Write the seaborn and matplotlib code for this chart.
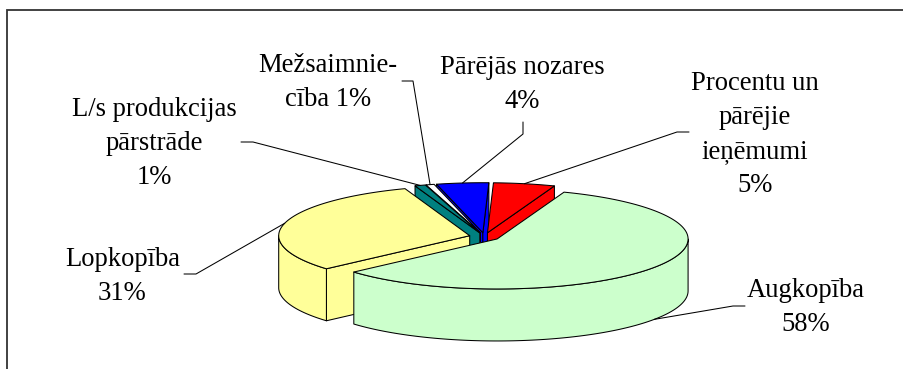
import numpy as np
import seaborn as sns
import matplotlib
matplotlib.use("Agg")
import matplotlib.pyplot as plt

# shares, clockwise from the top
names = ["Procentu un\npārējie\nieņēmumi", "Augkopība", "Lopkopība",
         "L/s produkcijas\npārstrāde", "Mežsaimnie-\ncība", "Pārējās nozares"]
shares = [5.2, 57.8, 31.0, 0.9, 0.7, 4.4]
colors = ["#FF0000", "#CCFFCC", "#FFFF99", "#008080", "#FFFFFF", "#0000FF"]
label_sep = ["\n", "\n", "\n", "\n", " ", "\n"]

# label centre and the elbow of the leader line
label_xy = [(755, 134.5), (806, 307.5), (122.5, 276.5), (154, 143.5), (328, 82.5), (522, 84.5)]
leader_pts = [[(689, 132), (677, 132)], [(745, 306), (733, 306)],
              [(184, 274), (196, 274)], [(241, 142), (253, 142)],
              [(402, 81), (413, 81)], [(523, 122), (523, 134)]]

# pie geometry, in pixels
start = 1.8
center = (484.5, 236.7)
rx, ry, depth = 191, 50, 52
explode = 0.08
edge = 0.75

sns.set_style("white")
plt.rcParams["font.family"] = ["Liberation Serif", "DejaVu Serif"]
palette = sns.color_palette(colors)

fig = plt.figure(figsize=(9.04, 3.69), dpi=100)
ax = fig.add_axes([0, 0, 1, 1])
ax.set_xlim(0, 904)
ax.set_ylim(369, 0)
ax.axis("off")

ends = start + np.cumsum(shares) * 3.6
begins = np.r_[start, ends[:-1]]


def rim(cx, cy, t):
    r = np.radians(t)
    return cx + rx * np.sin(r), cy - ry * np.cos(r)


def wedge_center(a, b):
    m = np.radians((a + b) / 2)
    return center[0] + explode * rx * np.sin(m), center[1] - explode * ry * np.cos(m)


def draw_wedge(i):
    a, b = begins[i], ends[i]
    c = palette[i]
    cx, cy = wedge_center(a, b)
    kw = dict(facecolor=c, edgecolor="black", linewidth=edge, joinstyle="round")
    # cut faces that look to the viewer
    for t, show in ((a, np.sin(np.radians(a)) < 0), (b, np.sin(np.radians(b)) > 0)):
        if show:
            x, y = rim(cx, cy, t)
            ax.fill([cx, x, x, cx], [cy, y, y + depth, cy + depth], **kw)
    # outer wall, front half only
    lo, hi = max(a, 90), min(b, 270)
    if lo < hi:
        t = np.linspace(lo, hi, 120)
        x, y = rim(cx, cy, t)
        ax.fill(np.r_[x, x[::-1]], np.r_[y, y[::-1] + depth], **kw)
    # top
    t = np.linspace(a, b, 160)
    x, y = rim(cx, cy, t)
    ax.fill(np.r_[cx, x], np.r_[cy, y], **kw)


# chart frame, only top and left show up
ax.plot([7, 7, 904], [369, 10, 10], color="#333333", linewidth=1.3, solid_joinstyle="miter")

# leaders first, pie goes on top of their ends
for i in range(len(shares)):
    a, b = begins[i], ends[i]
    cx, cy = wedge_center(a, b)
    m = (a + b) / 2
    x, y = rim(cx, cy, m)
    if 90 < m % 360 < 270:
        y += depth
    pts = leader_pts[i] + [(x, y)]
    ax.plot(*zip(*pts), color="black", linewidth=0.75)

# back to front
for i in [5, 0, 4, 3, 2, 1]:
    draw_wedge(i)

for name, sep, share, xy in zip(names, label_sep, shares, label_xy):
    ax.text(xy[0], xy[1], f"{name}{sep}{round(share)}%", ha="center", va="center",
            fontsize=19.2, linespacing=1.48, color="black")

fig.savefig("out.png", dpi=100)
